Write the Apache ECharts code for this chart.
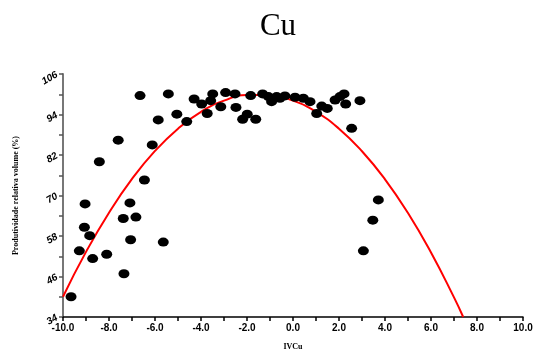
<!DOCTYPE html>
<html>
<head>
<meta charset="utf-8">
<script src="https://cdn.jsdelivr.net/npm/echarts@6/dist/echarts.min.js"></script>
<style>html,body{margin:0;padding:0;background:#fff}#c{width:538px;height:363px}</style>
</head>
<body>
<div id="c"></div>
<script>
// Observed points (IVCu, relative productivity %)
const pointX = [-9.65,-9.29,-8.71,-9.07,-8.84,-9.04,-8.10,-7.38,-7.09,-6.83,-7.06,-7.35,-5.64,-6.46,
  -6.65,-5.42,-5.86,-7.60,-6.12,-8.42,-5.05,-4.62,-4.30,-3.97,-3.49,-3.58,-3.73,-3.14,-2.93,-2.52,
  -2.48,-2.19,-1.99,-1.62,-1.84,-1.32,-1.07,-0.93,-0.71,-0.57,-0.35,0.09,0.45,0.74,1.03,1.25,1.49,
  1.83,2.04,2.22,2.29,2.91,2.55,3.71,3.47,3.06];
const pointY = [40.0,53.6,51.3,60.6,58.1,67.5,52.6,63.2,67.8,63.6,56.9,46.8,56.2,74.6,
  99.6,100.1,92.4,86.4,85.0,80.0,94.1,91.9,98.6,97.1,100.1,98.1,94.3,96.3,100.5,100.1,
  96.1,92.6,94.1,92.6,99.6,100.1,99.3,97.8,99.3,98.8,99.5,99.1,98.8,97.8,94.3,96.5,95.8,
  98.3,99.3,100.1,97.1,98.1,89.9,68.7,62.7,53.6];
// Fitted curve
const curveX = [-10,-9,-8,-7,-6,-5,-4,-3,-2,-1,0,1,2,3,4,5,6,7,7.4];
const curveY = [40.0,53.3,64.9,74.9,83.2,89.8,94.8,98.1,99.8,99.8,98.1,94.8,89.8,83.1,74.8,64.8,53.1,39.8,34.0];
const yTicks = [34,46,58,70,82,94,106];

const chart = echarts.init(document.getElementById('c'), null, {renderer:'canvas'});
chart.setOption({
  animation:false,
  backgroundColor:'#fff',
  title:{text:'Cu', left:273, top:6, textAlign:'center',
    textStyle:{fontFamily:'Liberation Serif', fontSize:31, fontWeight:'normal', color:'#000'}},
  grid:{left:63, right:15, top:74, bottom:46},
  xAxis:{type:'value', min:-10, max:10, interval:2,
    name:'IVCu', nameLocation:'middle', nameGap:26,
    nameTextStyle:{fontFamily:'Liberation Serif', fontWeight:'bold', fontSize:8, color:'#000'},
    axisLine:{onZero:false, lineStyle:{color:'#000', width:1.5}},
    axisTick:{show:true, length:4, lineStyle:{color:'#000', width:1.5}},
    minorTick:{show:true, splitNumber:2, length:4, lineStyle:{color:'#000', width:1.5}},
    splitLine:{show:false},
    axisLabel:{formatter:v=>v.toFixed(1), fontFamily:'Liberation Sans', fontWeight:'bold', fontSize:10, color:'#000', margin:6}
  },
  yAxis:{type:'value', min:34, max:106, interval:12,
    name:'Produtividade relativa volume (%)', nameLocation:'middle', nameGap:43,
    nameTextStyle:{fontFamily:'Liberation Serif', fontWeight:'bold', fontSize:8, color:'#000'},
    axisLine:{onZero:false, lineStyle:{color:'#777', width:2}},
    axisTick:{show:true, length:4, lineStyle:{color:'#555', width:1.5}},
    minorTick:{show:true, splitNumber:2, length:4, lineStyle:{color:'#555', width:1.5}},
    splitLine:{show:false},
    axisLabel:{formatter:v=>String(v), rotate:30, fontFamily:'Liberation Sans', fontStyle:'italic', fontWeight:'bold', fontSize:10, color:'#000', margin:6}
  },
  series:[
    {type:'line', data:curveX.map((x,i)=>[x,curveY[i]]), smooth:true, showSymbol:false,
      lineStyle:{color:'#ff0000', width:2}, z:2, clip:true},
    {type:'scatter', data:pointX.map((x,i)=>[x,pointY[i]]), symbol:'circle', symbolSize:[11,9],
      itemStyle:{color:'#000', opacity:1}, z:3}
  ]
});
</script>
</body>
</html>
